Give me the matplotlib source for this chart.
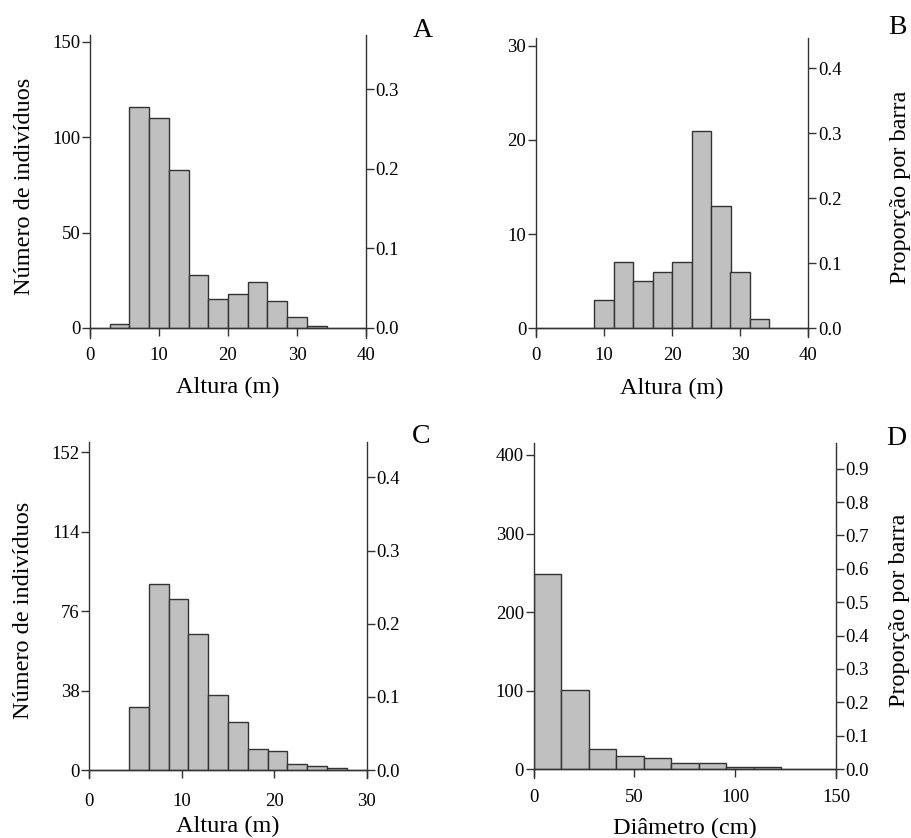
import numpy as np
import matplotlib
matplotlib.use("Agg")
import matplotlib.pyplot as plt

plt.rcParams['font.family'] = ['Liberation Serif', 'DejaVu Serif']

# bin edges and counts per panel
bins_a = np.linspace(0, 40, 15)
counts_a = [0, 2, 116, 110, 83, 28, 15, 18, 24, 14, 6, 1, 0, 0]

bins_b = np.linspace(0, 40, 15)
counts_b = [0, 0, 0, 3, 7, 5, 6, 7, 21, 13, 6, 1, 0, 0]

bins_c = np.linspace(0, 30, 15)
counts_c = [0, 0, 30, 89, 82, 65, 36, 23, 10, 9, 3, 2, 1, 0]

bins_d = np.linspace(0, 150, 12)
counts_d = [248, 101, 26, 16, 14, 8, 8, 2, 2, 0, 0]

yticks_a = [0, 50, 100, 150]
yticks_b = [0, 10, 20, 30]
yticks_c = [0, 38, 76, 114, 152]
yticks_d = [0, 100, 200, 300, 400]

pticks_a = [0.0, 0.1, 0.2, 0.3]
pticks_b = [0.0, 0.1, 0.2, 0.3, 0.4]
pticks_c = [0.0, 0.1, 0.2, 0.3, 0.4]
pticks_d = [0.0, 0.1, 0.2, 0.3, 0.4, 0.5, 0.6, 0.7, 0.8, 0.9]

xlabel_h = "Altura (m)"
xlabel_d = "Diâmetro (cm)"
ylabel_l = "Número de indivíduos"
ylabel_r = "Proporção por barra"

W, H = 912, 838
fig = plt.figure(figsize=(W / 100, H / 100), dpi=100)

BAR = "#c0c0c0"
EDGE = "#333333"
SPINE = "#333333"
TICK_FS = 13.5
LAB_FS = 17.5


def panel(px, letter, bins, counts, xlim, xticks, yticks, ylim, pticks,
          xlabel, xlab_y, xpad, ylab=None, ylab_x=None, rlab=None, rlab_x=None,
          letter_xy=None):
    l, r, t, b = px
    ax = fig.add_axes([l / W, 1 - b / H, (r - l) / W, (b - t) / H])
    ax.bar(bins[:-1], counts, width=np.diff(bins), align='edge',
           color=BAR, edgecolor=EDGE, linewidth=1.0, zorder=2)
    ax.set_xlim(*xlim)
    ax.set_ylim(*ylim)
    ax.set_xticks(xticks)
    ax.set_yticks(yticks)
    ax.spines['top'].set_visible(False)
    ax.spines['right'].set_visible(False)
    ax.spines['bottom'].set_position(('data', 0))
    for s in ['left', 'bottom']:
        ax.spines[s].set_color(SPINE)
        ax.spines[s].set_linewidth(1.0)
    ax.tick_params(axis='y', direction='out', length=6, width=1, pad=1,
                   labelsize=TICK_FS, color=SPINE)
    ax.tick_params(axis='x', direction='out', length=6, width=1, pad=xpad,
                   labelsize=TICK_FS, color=SPINE)
    ax.set_xlabel(xlabel, fontsize=LAB_FS, va='center')
    ax.xaxis.set_label_coords(0.5, xlab_y)
    if ylab:
        ax.set_ylabel(ylab, fontsize=LAB_FS, va='center')
        ax.yaxis.set_label_coords(ylab_x, 0.5)

    n = sum(counts)
    ax2 = ax.twinx()
    ax2.set_ylim(ylim[0] / n, ylim[1] / n)
    ax2.set_yticks(pticks)
    ax2.set_yticklabels([f"{p:.1f}" for p in pticks])
    for s in ['top', 'left', 'bottom']:
        ax2.spines[s].set_visible(False)
    ax2.spines['right'].set_color(SPINE)
    ax2.spines['right'].set_linewidth(1.0)
    ax2.tick_params(axis='y', direction='out', length=6, width=1, pad=1,
                    labelsize=TICK_FS, color=SPINE)
    if rlab:
        ax2.set_ylabel(rlab, fontsize=LAB_FS, va='center')
        ax2.yaxis.set_label_coords(rlab_x, 0.5)

    fig.text(letter_xy[0] / W, 1 - letter_xy[1] / H, letter, fontsize=20,
             ha='center', va='center')
    return ax


panel((90, 366, 35, 337.7), "A", bins_a, counts_a, (0, 40), [0, 10, 20, 30, 40],
      yticks_a, (-5.1, 153.6), pticks_a, xlabel_h, -0.166, 8,
      ylab=ylabel_l, ylab_x=-0.238, letter_xy=(422.7, 30.7))

panel((536, 808.3, 38.3, 336.7), "B", bins_b, counts_b, (0, 40), [0, 10, 20, 30, 40],
      yticks_b, (-0.89, 30.8), pticks_b, xlabel_h, -0.172, 7.5,
      rlab=ylabel_r, rlab_x=1.34, letter_xy=(897.7, 28))

panel((89.3, 366.7, 441.7, 778.3), "C", bins_c, counts_c, (0, 30), [0, 10, 20, 30],
      yticks_c, (-3.97, 157.1), pticks_c, xlabel_h, -0.144, 10.5,
      ylab=ylabel_l, ylab_x=-0.238, letter_xy=(420.7, 436.7))

panel((533.7, 836, 443.3, 778.3), "D", bins_d, counts_d, (0, 150), [0, 50, 100, 150],
      yticks_d, (-11.8, 414.9), pticks_d, xlabel_d, -0.149, 8.5,
      rlab=ylabel_r, rlab_x=1.21, letter_xy=(896, 438))

fig.savefig("out.png", dpi=100)
